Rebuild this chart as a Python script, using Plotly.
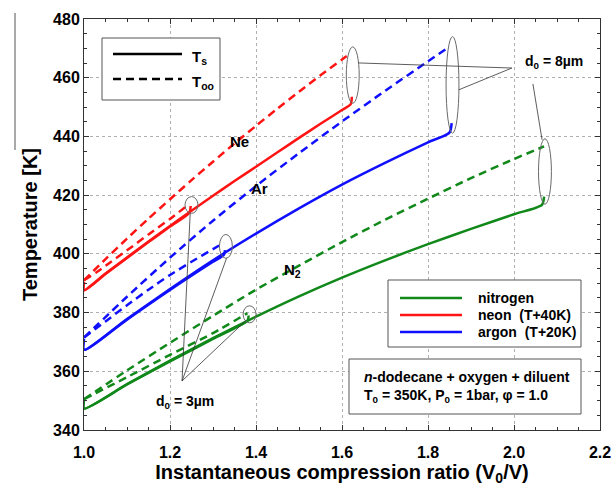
import plotly.graph_objects as go

# ---- data: compression ratio (V0/V) and temperatures [K] ----
# neon (shifted +40 K)
cr_ne_ts8 = [1.0, 1.0, 1.05, 1.10, 1.15, 1.20, 1.25, 1.30, 1.35, 1.40, 1.45, 1.50, 1.55, 1.60, 1.62, 1.623]
ts_ne_8 = [390.5, 387.7, 393.3, 398.8, 404.2, 409.5, 414.7, 419.8, 424.8, 429.7, 434.6, 439.5, 444.3, 449.0, 450.9, 453.5]
cr_ne_tg8 = [1.0, 1.05, 1.10, 1.15, 1.20, 1.25, 1.30, 1.35, 1.40, 1.45, 1.50, 1.55, 1.60, 1.62]
tg_ne_8 = [391.0, 398.2, 405.2, 412.0, 418.6, 425.1, 431.4, 437.6, 443.6, 449.5, 455.2, 460.8, 466.2, 468.3]
cr_ne_ts3 = [1.0, 1.0, 1.05, 1.10, 1.15, 1.20, 1.245, 1.248]
ts_ne_3 = [390.5, 387.5, 393.1, 398.6, 404.0, 409.3, 414.0, 416.3]
cr_ne_tg3 = [1.0, 1.03, 1.06, 1.10, 1.15, 1.20, 1.245]
tg_ne_3 = [391.0, 393.8, 397.0, 401.2, 406.6, 411.9, 417.0]

# argon (shifted +20 K)
cr_ar_ts8 = [1.0, 1.0, 1.10, 1.20, 1.30, 1.40, 1.50, 1.60, 1.70, 1.80, 1.85, 1.855]
ts_ar_8 = [371.0, 367.3, 377.8, 388.0, 397.8, 406.9, 415.5, 423.6, 431.0, 438.0, 441.3, 444.5]
cr_ar_tg8 = [1.0, 1.10, 1.20, 1.30, 1.40, 1.50, 1.60, 1.70, 1.80, 1.85]
tg_ar_8 = [371.5, 385.4, 398.7, 411.3, 423.1, 434.3, 445.1, 455.5, 465.6, 470.6]
cr_ar_ts3 = [1.0, 1.0, 1.10, 1.20, 1.30, 1.325, 1.328]
ts_ar_3 = [371.0, 367.3, 377.6, 387.7, 397.3, 399.6, 401.3]
cr_ar_tg3 = [1.0, 1.05, 1.10, 1.15, 1.20, 1.25, 1.30, 1.325]
tg_ar_3 = [371.5, 377.0, 382.5, 387.8, 392.8, 397.3, 401.6, 403.8]

# nitrogen
cr_n2_ts8 = [1.0, 1.0, 1.10, 1.20, 1.30, 1.40, 1.50, 1.60, 1.70, 1.80, 1.90, 2.00, 2.065, 2.07]
ts_n2_8 = [350.0, 347.3, 355.6, 363.6, 371.3, 378.6, 385.5, 391.9, 397.8, 403.3, 408.5, 413.5, 416.7, 419.5]
cr_n2_tg8 = [1.0, 1.10, 1.20, 1.30, 1.40, 1.50, 1.60, 1.70, 1.80, 1.90, 2.00, 2.07]
tg_n2_8 = [350.5, 360.3, 369.7, 378.9, 387.8, 396.0, 404.0, 411.6, 418.8, 425.8, 432.3, 436.6]
cr_n2_ts3 = [1.0, 1.0, 1.10, 1.20, 1.30, 1.38, 1.383]
ts_n2_3 = [350.0, 347.3, 355.5, 363.4, 371.0, 377.2, 379.0]
cr_n2_tg3 = [1.0, 1.10, 1.20, 1.30, 1.38]
tg_n2_3 = [350.5, 358.0, 365.6, 373.0, 379.8]

x_ticks = [1.0, 1.2, 1.4, 1.6, 1.8, 2.0, 2.2]
y_ticks = [340, 360, 380, 400, 420, 440, 460, 480]

RED = "#ff1414"
BLUE = "#1010ff"
GREEN = "#10881a"
FONT = "Liberation Sans, Arial, sans-serif"
DASH = "8px,5px"
LW = 2.5

fig = go.Figure()

gases = [
    (GREEN, [(cr_n2_tg8, tg_n2_8, DASH), (cr_n2_ts8, ts_n2_8, "solid"),
             (cr_n2_tg3, tg_n2_3, DASH), (cr_n2_ts3, ts_n2_3, "solid")]),
    (BLUE, [(cr_ar_tg8, tg_ar_8, DASH), (cr_ar_ts8, ts_ar_8, "solid"),
            (cr_ar_tg3, tg_ar_3, DASH), (cr_ar_ts3, ts_ar_3, "solid")]),
    (RED, [(cr_ne_tg8, tg_ne_8, DASH), (cr_ne_ts8, ts_ne_8, "solid"),
           (cr_ne_tg3, tg_ne_3, DASH), (cr_ne_ts3, ts_ne_3, "solid")]),
]
for color, curves in gases:
    for xs, ys, dash in curves:
        fig.add_trace(go.Scatter(x=xs, y=ys, mode="lines", showlegend=False,
                                 hoverinfo="skip",
                                 line=dict(color=color, width=LW, dash=dash,
                                           shape="spline", smoothing=0.7)))

shapes = []
annotations = []

# ellipses around the end of each droplet history
HW = 0.015


def ellipse(xs_a, ys_a, xs_b, ys_b, pad):
    cx = max(xs_a[-1], xs_b[-1]) + 0.002
    lo = min(ys_a[-1], ys_b[-1])
    hi = max(ys_a[-1], ys_b[-1])
    cy = 0.5 * (lo + hi)
    hh = 0.5 * (hi - lo) + pad
    shapes.append(dict(type="circle", xref="x", yref="y",
                       x0=cx - HW, x1=cx + HW, y0=cy - hh, y1=cy + hh,
                       line=dict(color="#6a6a6a", width=1)))
    return cx, cy, hh


e_ne8 = ellipse(cr_ne_ts8, ts_ne_8, cr_ne_tg8, tg_ne_8, 2.2)
e_ar8 = ellipse(cr_ar_ts8, ts_ar_8, cr_ar_tg8, tg_ar_8, 3.4)
e_n28 = ellipse(cr_n2_ts8, ts_n2_8, cr_n2_tg8, tg_n2_8, 2.6)
e_ne3 = ellipse(cr_ne_ts3, ts_ne_3, cr_ne_tg3, tg_ne_3, 2.5)
e_ar3 = ellipse(cr_ar_ts3, ts_ar_3, cr_ar_tg3, tg_ar_3, 2.8)
e_n23 = ellipse(cr_n2_ts3, ts_n2_3, cr_n2_tg3, tg_n2_3, 2.5)


def pt(e, fx, fy):
    cx, cy, hh = e
    return cx + fx * HW, cy + fy * hh


def leader(x0, y0, x1, y1):
    shapes.append(dict(type="line", xref="x", yref="y", x0=x0, y0=y0, x1=x1, y1=y1,
                       line=dict(color="#333333", width=0.8)))


# d0 = 8 um leaders
hub8 = (1.995, 463.3)
for e, fx, fy in [(e_ne8, 0.9, 0.43), (e_ar8, 1.0, -0.1)]:
    px_, py_ = pt(e, fx, fy)
    leader(hub8[0], hub8[1], px_, py_)
px_, py_ = pt(e_n28, -0.45, 0.97)
leader(2.044, 457.9, px_, py_)

# d0 = 3 um leaders
hub3 = (1.228, 356.7)
for e, fx, fy in [(e_ne3, -0.2, -1.0), (e_ar3, 0.1, -1.0), (e_n23, -0.6, -0.75)]:
    px_, py_ = pt(e, fx, fy)
    leader(hub3[0], hub3[1], px_, py_)

annotations.append(dict(x=2.022, y=465.5, xref="x", yref="y", xanchor="left", yanchor="middle",
                        text="d<sub>0</sub> = 8µm", showarrow=False,
                        font=dict(family=FONT, size=14, color="black", weight="bold")))
annotations.append(dict(x=1.162, y=349.6, xref="x", yref="y", xanchor="left", yanchor="middle",
                        text="d<sub>0</sub> = 3µm", showarrow=False,
                        font=dict(family=FONT, size=14, color="black", weight="bold")))

# curve labels
for txt, x, y in [("Ne", 1.362, 438.3), ("Ar", 1.408, 422.3), ("N<sub>2</sub>", 1.486, 394.5)]:
    annotations.append(dict(x=x, y=y, xref="x", yref="y", text=txt, showarrow=False,
                            font=dict(family=FONT, size=15, color="black", weight="bold")))

# ---- helpers for placing key boxes in pixel space of the plot area ----
L, R, T, B = 84, 600, 19, 430


def fx_(px):
    return (px - L) / (R - L)


def fy_(py):
    return (B - py) / (B - T)


def box(x0, y0, x1, y1):
    shapes.append(dict(type="rect", xref="paper", yref="paper",
                       x0=fx_(x0), x1=fx_(x1), y0=fy_(y1), y1=fy_(y0),
                       line=dict(color="#555555", width=1), fillcolor="white", layer="above"))


def sample(x0, x1, y, color, dash):
    shapes.append(dict(type="line", xref="paper", yref="paper",
                       x0=fx_(x0), x1=fx_(x1), y0=fy_(y), y1=fy_(y),
                       line=dict(color=color, width=LW, dash=dash), layer="above"))


def label(px, py, text, size=14, xanchor="left"):
    annotations.append(dict(x=fx_(px), y=fy_(py), xref="paper", yref="paper",
                            xanchor=xanchor, yanchor="middle", text=text, showarrow=False,
                            font=dict(family=FONT, size=size, color="black", weight="bold")))


# line-style key
box(102, 38, 220, 100)
sample(113, 182, 54, "black", "solid")
sample(113, 182, 79, "black", DASH)
label(190, 57, "T<sub>s</sub>", 15)
label(190, 82, "T<sub>oo</sub>", 15)

# diluent key
box(388, 280, 581, 347)
sample(400, 462, 298, GREEN, "solid")
sample(400, 462, 315, RED, "solid")
sample(400, 462, 332, BLUE, "solid")
label(476, 298, "nitrogen", 14)
label(476, 315, "neon  (T+40K)", 14)
label(476, 332, "argon  (T+20K)", 14)

# conditions box
box(349, 359, 581, 414)
label(362, 377, "<i>n</i>-dodecane + oxygen + diluent", 14)
label(362, 396, "T<sub>0</sub> = 350K, P<sub>0</sub> = 1bar, φ = 1.0", 14)

# thin rule beside the y-axis title
shapes.append(dict(type="line", xref="paper", yref="paper",
                   x0=fx_(15), x1=fx_(15), y0=fy_(13), y1=fy_(150),
                   line=dict(color="#555555", width=1)))

axis_common = dict(
    showline=True, linecolor="#333333", linewidth=1, mirror="allticks",
    ticks="inside", ticklen=5, tickcolor="#333333",
    showgrid=True, gridcolor="#b0b0b0", griddash="dot", gridwidth=1,
    zeroline=False, automargin=False,
    tickfont=dict(family=FONT, size=16, color="black", weight="bold"),
)

fig.update_layout(
    width=613, height=489,
    margin=dict(l=L, r=613 - R, t=T, b=489 - B),
    paper_bgcolor="white", plot_bgcolor="white",
    shapes=shapes, annotations=annotations,
    xaxis=dict(range=[1.0, 2.2], tickvals=x_ticks, ticktext=[f"{v:.1f}" for v in x_ticks],
               ticklabelstandoff=8,
               minor=dict(ticks="inside", dtick=0.05, ticklen=3, tickcolor="#333333", showgrid=False),
               title=dict(text="Instantaneous compression ratio (V<sub>0</sub>/V)", standoff=4,
                          font=dict(family=FONT, size=20, color="black", weight="bold")),
               **axis_common),
    yaxis=dict(range=[340, 480], tickvals=y_ticks, ticktext=[str(v) for v in y_ticks],
               minor=dict(ticks="inside", dtick=5, ticklen=3, tickcolor="#333333", showgrid=False),
               title=dict(text="Temperature [K]", standoff=10,
                          font=dict(family=FONT, size=20, color="black", weight="bold")),
               **axis_common),
)

fig.write_html("out.html")
